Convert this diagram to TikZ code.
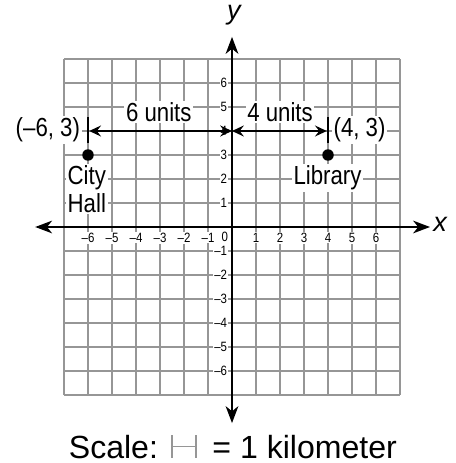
\documentclass[tikz,border=0pt]{standalone}
\usepackage{fontspec}
\setmainfont{Liberation Sans}
\newfontfamily\narrowfont[FakeStretch=0.85]{Liberation Sans}
\usetikzlibrary{arrows.meta}
\definecolor{gridgray}{RGB}{150,150,150}
\tikzset{
  gridline/.style={line width=0.9pt,draw=gridgray},
  axis/.style={line width=1.2pt,{Stealth[length=10pt,width=7.5pt,inset=3pt]}-{Stealth[length=10pt,width=7.5pt,inset=3pt]}},
  dimline/.style={line width=1.2pt,{Stealth[length=7pt,width=6.5pt,inset=2.5pt]}-{Stealth[length=7pt,width=6.5pt,inset=2.5pt]}},
  endbar/.style={line width=1.2pt},
  tick/.style={font=\narrowfont\fontsize{8}{9}\selectfont,fill=white,inner sep=0.6pt},
  lbl/.style={font=\narrowfont\fontsize{15.5}{18}\selectfont,fill=white,inner sep=1pt},
  axlbl/.style={font=\fontsize{16}{19}\selectfont\itshape,inner sep=0pt},
  place/.style={circle,fill=black,inner sep=0pt,minimum size=6.8pt}
}

\begin{document}
\begin{tikzpicture}[x=0.5cm,y=0.5cm]
  \useasboundingbox (-9.667,-9.833) rectangle (9.292,9.458);
  \draw[gridline,step=0.5cm] (-7,-7) grid (7,7);
  \foreach \n in {1,...,6}{
    \node[tick] at (\n,-0.45) {\n}; \node[tick] at (-\n,-0.45) {–\n};
    \node[tick,anchor=east] at (-0.15,\n) {\n}; \node[tick,anchor=east] at (-0.15,-\n) {–\n};
  }
  \node[tick] (zero) at (-0.3,-0.4) {0};
  \coordinate (xl) at (-8.2,0); \coordinate (xr) at (8.25,0); \coordinate (yb) at (0,-8.17); \coordinate (yt) at (0,7.92);
  \draw[axis] (xl)--(xr); \draw[axis] (yb)--(yt);
  \node[axlbl] (xlab) at (8.67,0.1) {x}; \node[axlbl] (ylab) at (0.08,8.83) {y};
  \node[place] (cityhall) at (-6,3) {}; \node[place] (library) at (4,3) {};
  \draw[endbar] (-6,3.5)--(-6,4.58); \draw[endbar] (4,3.5)--(4,4.58);
  \coordinate (hallmark) at (-5.95,4); \coordinate (axmark) at (0,4); \coordinate (libmark) at (3.95,4);
  \draw[dimline] (hallmark)--(axmark); \draw[dimline] (axmark)--(libmark);
  \node[lbl] (six) at (-3.05,4.8) {6 units}; \node[lbl] (four) at (2.0,4.8) {4 units};
  \node[lbl,anchor=east] (hallpt) at (-6.25,4.04) {(–6, 3)}; \node[lbl,anchor=west] (libpt) at (4.15,4.04) {(4, 3)};
  \node[lbl] (citytxt) at (-6.05,2.04) {City}; \node[lbl] (halltxt) at (-6.05,1.0) {Hall};
  \node[lbl] (libtxt) at (3.98,2.04) {Library};
  % scale
  \node[font=\fontsize{19}{22}\selectfont,anchor=east,inner sep=1pt] (scaletxt) at (-3.0,-9.15) {Scale:};
  \draw[gridline,line width=0.8pt] (-2.5,-8.67)--(-2.5,-9.625) (-1.5,-8.67)--(-1.5,-9.625) (-2.5,-9.15)--(-1.5,-9.15);
  \node[font=\fontsize{19}{22}\selectfont,anchor=west,inner sep=1pt] (kmtxt) at (-0.9,-9.15) {= 1 kilometer};
\end{tikzpicture}
\end{document}
